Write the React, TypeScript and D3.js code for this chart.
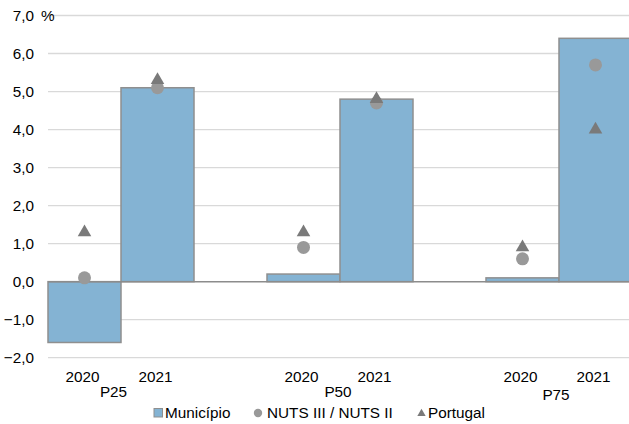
import React from "react";
import * as d3 from "d3";

const groups = ["P25", "P50", "P75"];
const years = ["2020", "2021"];
const municipio = [-1.6, 5.1, 0.2, 4.8, 0.1, 6.4];
const nuts = [0.1, 5.1, 0.9, 4.7, 0.6, 5.7];
const portugal = [1.3, 5.3, 1.3, 4.8, 0.9, 4.0];
const yTicks = [-2, -1, 0, 1, 2, 3, 4, 5, 6, 7];

const W = 629, H = 424;
const left = 48, right = 632, top = 15.5, bottom = 357.7;
const slotIndex = [0, 1, 3, 4, 6, 7];

export default function App() {
  const y = d3.scaleLinear().domain([-2, 7]).range([bottom, top]);
  const x = d3.scaleLinear().domain([0, 8]).range([left, right]);
  const slotW = x(1) - x(0);
  const fmt = (v: number) => d3.format(".1f")(v).replace(".", ",");
  const font = "Liberation Sans, Arial, sans-serif";
  const fs = 15.3;
  const tri = d3.symbol().type(d3.symbolTriangle).size(80)() as string;
  const labelOffsets = [-7.5, -2, -3];
  const labelY = [397, 397, 400];
  return (
    <svg width={W} height={H} style={{ position: "absolute", left: 0, top: 0 }}>
      <rect width={W} height={H} fill="#fff" />
      {yTicks.filter(t => t !== 0).map(t => (
        <line key={t} x1={left} x2={W} y1={y(t)} y2={y(t)} stroke="#d9d9d9" strokeWidth={1.3} />
      ))}
      {yTicks.map(t => (
        <text key={"l" + t} x={34} y={y(t) + 5.5} textAnchor="end" fontFamily={font} fontSize={fs} fill="#000">
          {fmt(t)}
        </text>
      ))}
      <text x={41} y={y(7) + 5.5} fontFamily={font} fontSize={fs} fill="#000">%</text>
      {municipio.map((v, i) => {
        const x0 = x(slotIndex[i]);
        return (
          <rect key={"b" + i} x={x0} width={slotW} y={Math.min(y(v), y(0))} height={Math.abs(y(v) - y(0))}
            fill="#84b3d3" stroke="#8f8f8f" strokeWidth={1.5} />
        );
      })}
      <line x1={left} x2={W} y1={y(0)} y2={y(0)} stroke="#8c8c8c" strokeWidth={1.5} />
      {nuts.map((v, i) => (
        <circle key={"n" + i} cx={x(slotIndex[i] + 0.5)} cy={y(v)} r={6.5} fill="#999999" />
      ))}
      {portugal.map((v, i) => (
        <path key={"p" + i} d={tri} transform={`translate(${x(slotIndex[i] + 0.5)},${y(v)})`} fill="#7a7a7a" />
      ))}
      {slotIndex.map((s, i) => (
        <text key={"yr" + i} x={x(s + 0.5) - 2} y={382} textAnchor="middle" fontFamily={font} fontSize={fs} fill="#000">
          {years[i % 2]}
        </text>
      ))}
      {groups.map((g, gi) => (
        <text key={g} x={x(gi * 3 + 1) + labelOffsets[gi]} y={labelY[gi]} textAnchor="middle" fontFamily={font} fontSize={fs} fill="#000">
          {g}
        </text>
      ))}
      <g fontFamily={font} fontSize={fs} fill="#000">
        <rect x={154} y={408.5} width={8.5} height={8.5} fill="#84b3d3" stroke="#8f8f8f" strokeWidth={1} />
        <text x={165} y={418}>Município</text>
        <circle cx={258} cy={413} r={4.2} fill="#999999" />
        <text x={267} y={418}>NUTS III / NUTS II</text>
        <path d={d3.symbol().type(d3.symbolTriangle).size(30)() as string} transform="translate(421.5,413.5)" fill="#7a7a7a" />
        <text x={428} y={418}>Portugal</text>
      </g>
    </svg>
  );
}
